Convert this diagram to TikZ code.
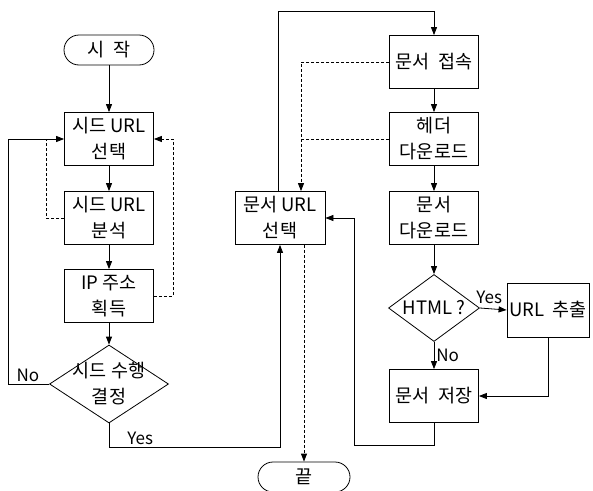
\documentclass[tikz,border=0pt]{standalone}
\usepackage{fontspec}
\setmainfont{Noto Sans CJK KR}
\usetikzlibrary{shapes.geometric,arrows.meta}

\tikzset{%
  every block/.style={
    rectangle,
    draw,
    line width=0.8pt,
    minimum width=89pt,
    minimum height=53pt,
    inner sep=0pt,
    align=center,
    font=\fontsize{18.5}{26}\selectfont
  },
  block terminal/.style={
    rounded corners=15pt,
    minimum width=90pt,
    minimum height=30pt
  },
  block decision/.style={
    diamond,
    aspect=1.5,
    minimum width=119pt,
    minimum height=78pt
  },
  flow label/.style={
    inner sep=2pt,
    font=\fontsize{17}{18}\selectfont
  },
}

\begin{document}
\begin{tikzpicture}[x=1pt, y=-1pt, >={Triangle[length=8pt,width=6pt]}, line width=0.8pt]
    \useasboundingbox (0,0) rectangle (593,490);

        \node [every block, block terminal] (start) at (109,50) {시 \ 작};
        \foreach \m/\t/\y in {seedsel/{시드 URL\\선택}/139, seedana/{시드 URL\\분석}/218, ipget/{IP 주소\\획득}/296}
          \node [every block] (\m) at (109,\y) {\t};
        \node [every block, block decision, inner xsep=-12pt] (seeddec) at (109,384) {시드 수행\\결정};

        \node [every block, minimum width=90pt] (docsel) at (280,218) {문서 URL\\선택};
        \foreach \m/\t/\y in {docconn/{문서 \ 접속}/62, header/{헤더\\다운로드}/139, docdown/{문서\\다운로드}/218}
          \node [every block] (\m) at (434,\y) {\t};
        \node [every block, block decision, aspect=1.36, minimum width=91pt, minimum height=67pt] (html) at (434,308) {HTML ?};
        \node [every block, minimum width=82pt, minimum height=54pt] (urlext) at (548,310) {URL \ 추출};
        \node [every block] (docsave) at (434,396) {문서 \ 저장};
        \node [every block, block terminal, minimum width=92pt] (end) at (304,477) {끝};

        \foreach \a/\b in {start/seedsel, seedsel/seedana, seedana/ipget, ipget/seeddec, docconn/header, header/docdown, docdown/html}
          \draw [->] (\a) -- (\b);

        % seed loop
        \draw [->] (seeddec.west) -- ++(-41,0) node [flow label, above right, xshift=6pt] {No} |- (seedsel.west);
        \draw [densely dashed] (seedana.west) -- ++(-18,0) |- (seedsel.west);
        \draw [densely dashed, ->] (ipget.east) -- ++(19,0) |- (seedsel.east);
        \draw [->] (seeddec.south) -- ++(0,24) node [flow label, anchor=south west, xshift=16pt] {Yes} -| (docsel.south);

        % document loop
        \draw [->] ([xshift=-2pt]docsel.north) -- ++(0,-180) -| (docconn.north);
        \coordinate (dashjoin) at ([xshift=21pt]docsel.north);
        \draw [densely dashed, ->] (docconn.west) -| (dashjoin);
        \draw [densely dashed] (header.west) -- (dashjoin |- header.west);
        \draw [->] (html.east) -- (urlext.west) node [flow label, midway, above, xshift=-4pt, yshift=3pt] {Yes};
        \draw [->] (html.south) -- (docsave.north) node [flow label, midway, right] {No};
        \draw [->] (urlext.south) |- (docsave.east);
        \draw [->] (docsave.south) -- ++(0,22) -| ([xshift=29pt]docsel.east) -- (docsel.east);
        \draw [densely dashed, ->] (docsel.south -| end.north) -- (end.north);
    \end{tikzpicture}
\end{document}
